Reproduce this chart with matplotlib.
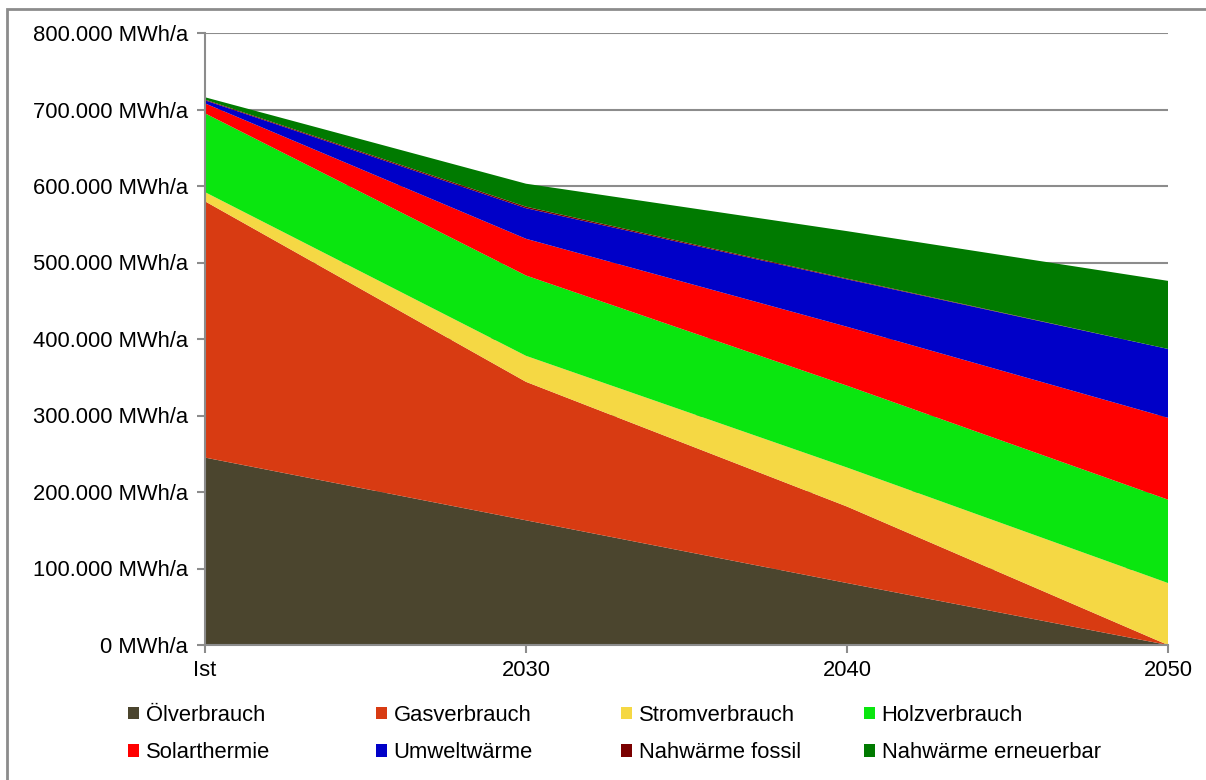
import matplotlib
matplotlib.use("Agg")
import matplotlib.pyplot as plt
from matplotlib.patches import Rectangle
from matplotlib.ticker import FuncFormatter

plt.rcParams['font.family'] = ['Liberation Sans', 'DejaVu Sans']

categories = ["Ist", "2030", "2040", "2050"]
series_names = ["Ölverbrauch", "Gasverbrauch", "Stromverbrauch", "Holzverbrauch",
                "Solarthermie", "Umweltwärme", "Nahwärme fossil", "Nahwärme erneuerbar"]
oel = [245000, 163000, 81000, 0]
gas = [335000, 181000, 100000, 0]
strom = [12000, 34000, 51000, 81000]
holz = [103000, 105000, 107000, 109000]
solar = [13000, 48000, 77000, 107000]
umwelt = [4000, 40000, 62000, 90000]
nah_fossil = [1000, 2000, 1000, 0]
nah_ern = [3000, 30000, 62000, 89000]
colors = ["#4b452e", "#d83b12", "#f5d844", "#0ae60f",
          "#ff0000", "#0000c8", "#7a0000", "#007a00"]
y_ticks = [0, 100000, 200000, 300000, 400000, 500000, 600000, 700000, 800000]

FS = 15.8
W, H = 1206, 780
fig = plt.figure(figsize=(W / 100, H / 100), dpi=100)
ax = fig.add_axes([205 / W, 1 - 645 / H, (1168 - 205) / W, (645 - 33) / H])

x = list(range(len(categories)))
polys = ax.stackplot(x, oel, gas, strom, holz, solar, umwelt, nah_fossil, nah_ern,
                     colors=colors, labels=series_names, linewidth=0)

ax.set_xlim(0, len(categories) - 1)
ax.set_ylim(0, 800000)
ax.set_yticks(y_ticks)
ax.yaxis.set_major_formatter(FuncFormatter(
    lambda v, p: f"{int(v):,} MWh/a".replace(",", ".")))
ax.set_xticks(x)
ax.set_xticklabels(categories)
ax.grid(axis='y', color='#8c8c8c', linewidth=1.5, zorder=0)
ax.set_axisbelow(True)
for s in ['top', 'right']:
    ax.spines[s].set_visible(False)
for s in ['left', 'bottom']:
    ax.spines[s].set_color('#8c8c8c')
    ax.spines[s].set_linewidth(1.5)
ax.tick_params(axis='both', colors='#8c8c8c', labelcolor='black', labelsize=FS,
               length=6, width=1.5, direction='out')
ax.tick_params(axis='y', pad=6)
ax.tick_params(axis='x', pad=5)

# legend: 4 columns x 2 rows
col_x = [128, 376, 621, 864]
for c in range(4):
    fig.legend(handles=[polys[c], polys[c + 4]], labels=[series_names[c], series_names[c + 4]],
               loc='upper left', bbox_to_anchor=(col_x[c] / W, 1 - 705 / H),
               frameon=False, fontsize=FS, handlelength=0.5, handleheight=0.5,
               handletextpad=0.3, labelspacing=0.75, borderpad=0, borderaxespad=0)

# outer border
fig.patches.append(Rectangle((7 / W, -0.05), 1.1, 1 - 9.5 / H + 0.05, transform=fig.transFigure,
                             fill=False, edgecolor='#8c8c8c', linewidth=2))

fig.savefig("out.png", dpi=100)
